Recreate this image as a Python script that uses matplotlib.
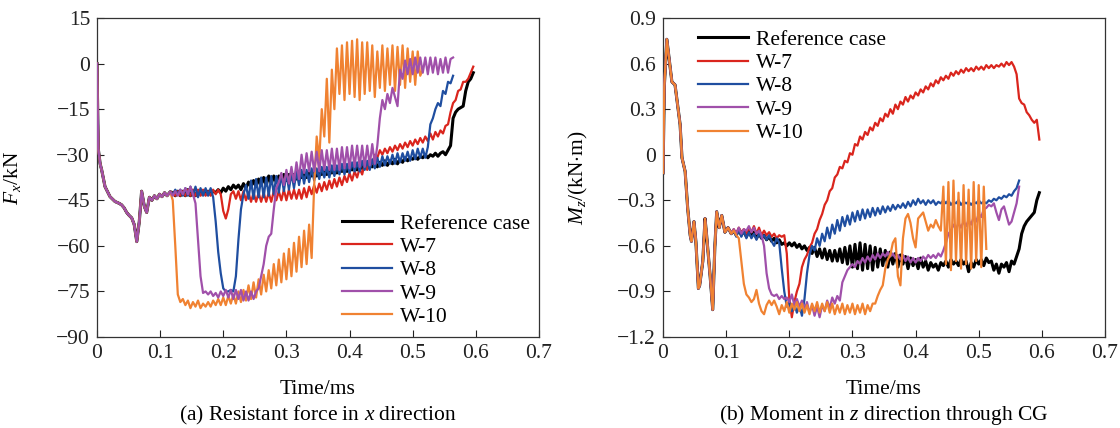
import numpy as np
import matplotlib
matplotlib.use("Agg")
import matplotlib.pyplot as plt

plt.rcParams['font.family'] = ['Liberation Serif', 'DejaVu Serif']
plt.rcParams['mathtext.fontset'] = 'custom'
plt.rcParams['mathtext.rm'] = 'Liberation Serif'
plt.rcParams['mathtext.it'] = 'Liberation Serif:italic'
FS = 15.5

labels = ["Reference case", "W-7", "W-8", "W-9", "W-10"]
colors = ["#000000", "#DA251D", "#1F4EA0", "#A050AA", "#F08232"]

xticks = [0, 0.1, 0.2, 0.3, 0.4, 0.5, 0.6, 0.7]
xticklabels = ["0", "0.1", "0.2", "0.3", "0.4", "0.5", "0.6", "0.7"]
fx_ticks = [15, 0, -15, -30, -45, -60, -75, -90]
fx_ticklabels = ["15", "0", "\u221215", "\u221230", "\u221245", "\u221260", "\u221275", "\u221290"]
mz_ticks = [0.9, 0.6, 0.3, 0, -0.3, -0.6, -0.9, -1.2]
mz_ticklabels = ["0.9", "0.6", "0.3", "0", "\u22120.3", "\u22120.6", "\u22120.9", "\u22121.2"]

DT = 0.004

# ---- (a) Fx, shared start then each case from t=0.12 ms every 0.004 ms
fx_start_t = [0, 0.002, 0.005, 0.0074, 0.0127, 0.0206, 0.0285, 0.035, 0.039, 0.043,
              0.047, 0.051, 0.055, 0.059, 0.063, 0.067, 0.0707, 0.075, 0.0787, 0.083,
              0.087, 0.091, 0.095, 0.099, 0.103, 0.107, 0.111, 0.116]
fx_start_v = [0, -28, -33, -35, -40.5, -43.8, -45.4, -46, -46.5, -47.5,
              -49, -50, -50.8, -53, -58.6, -52, -42, -47, -49, -44,
              -45, -43.5, -44.5, -43, -43.8, -42.5, -43.5, -42.2]
FX_T0 = 0.12

fx_ref = [-42.5, -43.5, -42, -43.5, -42, -43.5, -41.5, -43.5, -42, -43.5,
          -42, -43, -42, -43, -42, -43, -42, -42.5, -41.5, -42.5,
          -41, -42, -40.5, -41.5, -40, -41, -40, -41.5, -39.5, -41,
          -39, -40.5, -38.5, -40.5, -38, -40, -37.5, -40, -37, -39.5,
          -37, -39, -37, -38.5, -36.5, -38.5, -36.5, -38, -36.5, -38,
          -36.5, -37.5, -36, -37.5, -36, -37, -35.5, -37, -35.5, -36.5,
          -35, -36.5, -35, -36, -34.5, -36, -34.5, -35.5, -34, -35.5,
          -34, -35, -33.5, -35, -33.5, -34.5, -33, -34.5, -33, -34,
          -32.5, -34, -32.5, -33.5, -32, -33.5, -32, -33, -31.5, -33,
          -31.5, -32.5, -31, -32, -31, -31.5, -30.5, -31.5, -30.5, -31,
          -30, -31, -30, -30.5, -29.5, -30.5, -29.5, -29, -30, -28.5,
          -27, -18, -16, -15, -14.5, -14, -9, -6, -5, -3]

fx_w7 = [-42.5, -43.5, -42, -43.5, -42, -43.5, -41.5, -43.5, -41.5, -43.5,
         -41.5, -43.5, -41.5, -43.5, -42, -43.5, -41.5, -43, -41.5, -43,
         -48.5, -51, -48, -43, -42, -44.5, -42, -45, -42, -45,
         -42.5, -45.5, -42.5, -45.5, -42.5, -45.5, -42.5, -45.5, -42.5, -45.5,
         -42, -45, -42, -45, -41.5, -45, -41.5, -44.5, -41.5, -44.5,
         -41.5, -44.5, -41, -44, -40.5, -43, -40, -42.5, -39.5, -42,
         -39, -41.5, -38.5, -41, -38, -40.5, -37.5, -40, -37, -39,
         -36, -38.5, -35.5, -37.5, -34.5, -36.5, -33, -35, -31.5, -33,
         -30, -31, -28.5, -30, -28, -29.5, -27.5, -29, -27, -28.5,
         -26.5, -28, -26, -27.5, -25.5, -27, -25, -26.5, -24.5, -26,
         -24, -25.5, -23, -25, -22.5, -24, -22, -23, -20.5, -20,
         -16, -13, -12, -9, -8.5, -6, -6, -5, -3, -1]

fx_w8 = [-43, -41.5, -43, -41.5, -43.5, -41, -43.5, -40.5, -43.5, -40.5,
         -44, -41, -43.5, -41, -43.5, -41, -44, -52, -62, -69,
         -74, -75, -75, -74.5, -75, -70, -58, -48, -43, -40,
         -44.5, -38.5, -44.5, -38, -44, -37.5, -44, -37.5, -43.5, -37,
         -43, -37, -42.5, -36.5, -42, -36, -41.5, -36, -41, -35.5,
         -40, -35, -39.5, -35, -39, -34.5, -38.5, -34.5, -38, -34,
         -37.5, -34, -37.5, -33.5, -37, -33.5, -36.5, -33, -36.5, -33,
         -36, -32.5, -35.5, -32.5, -35.5, -32, -35, -32, -35, -31.5,
         -34.5, -31, -34, -30.5, -33.5, -30.5, -33, -30, -33, -29.5,
         -32.5, -29.5, -32, -29, -32, -28.5, -31.5, -28, -31, -28,
         -31, -27.5, -20, -18, -15, -13, -14, -9, -10, -6,
         -6.5, -4]

fx_w9 = [-43.5, -42, -43.5, -41.5, -43, -41, -43, -40.5, -43, -46,
         -58, -70, -75.5, -75, -76, -75, -76.5, -75.5, -77, -75,
         -76.5, -74.5, -77, -74.5, -77.5, -74.5, -77.5, -74.5, -78, -75,
         -78, -75, -77.5, -75, -74, -70, -66, -60, -57, -56,
         -48, -41, -39, -36, -40, -35, -39.5, -34, -39, -32.5,
         -38, -30, -36, -29.5, -35.5, -29, -35.5, -29, -35.5, -28.5,
         -35, -28.5, -35, -28, -35, -28, -35, -27.5, -34.5, -27.5,
         -34.5, -27, -34, -27, -34, -27, -34, -27, -33.5, -26.5,
         -33, -27, -18, -12, -15, -10, -13, -8, -11, -14,
         -2, -5, 1, -3.5, 1.5, -3.5, 2, -3, 2, -3,
         2, -3.5, 2, -3, 2, -3.5, 1.5, -3, 2, -3,
         1.5, 2]

fx_w10 = [-45, -60, -76, -78.5, -77.5, -79.5, -78, -80.5, -78.5, -80,
          -78, -80.5, -79, -80, -78.5, -80, -78, -79.5, -77.5, -79.5,
          -77, -79.5, -76.5, -79, -76, -79, -75, -78.5, -74.5, -78,
          -73, -77.5, -72, -77, -71, -76, -69.5, -75, -68, -74,
          -66, -73, -64.5, -72, -62.5, -71, -61, -70, -59, -68.5,
          -57, -67, -55, -66, -53, -64, -40, -24, -32, -15,
          -24, -5, -26, -2, -15, 5, -10, 6, -12, 7,
          -10, 7.5, -11, 8, -12, 7, -10, 7, -9, 6,
          -11, 4, -8, 6, -9, 5, -7, 6, -9, 5.5,
          -7, 6, -8, 5, -6, 4, -7, 4, -4, -2]

# ---- (b) Mz, shared start then each case from t=0.112 ms every 0.004 ms
mz_start_t = [0, 0.002, 0.006, 0.010, 0.014, 0.019, 0.023, 0.027, 0.030, 0.035,
              0.039, 0.043, 0.045, 0.049, 0.052, 0.056, 0.058, 0.063, 0.0665, 0.069,
              0.0744, 0.0787, 0.082, 0.085, 0.089, 0.093, 0.098, 0.103, 0.108]
mz_start_v = [-0.12, 0.45, 0.76, 0.62, 0.48, 0.46, 0.33, 0.2, -0.02, -0.11,
              -0.35, -0.53, -0.57, -0.44, -0.57, -0.88, -0.86, -0.70, -0.42, -0.53,
              -0.79, -1.02, -0.61, -0.375, -0.48, -0.40, -0.51, -0.48, -0.52]
MZ_T0 = 0.112

mz_ref = [-0.50, -0.53, -0.49, -0.53, -0.50, -0.54, -0.50, -0.54, -0.51, -0.55,
          -0.52, -0.55, -0.53, -0.56, -0.54, -0.57, -0.55, -0.58, -0.56, -0.59,
          -0.58, -0.60, -0.58, -0.60, -0.58, -0.61, -0.59, -0.62, -0.60, -0.63,
          -0.61, -0.65, -0.61, -0.67, -0.62, -0.68, -0.62, -0.69, -0.63, -0.70,
          -0.63, -0.70, -0.62, -0.71, -0.61, -0.72, -0.60, -0.74, -0.59, -0.75,
          -0.58, -0.76, -0.59, -0.75, -0.60, -0.76, -0.61, -0.74, -0.62, -0.73,
          -0.63, -0.74, -0.64, -0.72, -0.65, -0.74, -0.66, -0.72, -0.67, -0.75,
          -0.68, -0.73, -0.69, -0.75, -0.68, -0.74, -0.70, -0.76, -0.71, -0.74,
          -0.72, -0.76, -0.71, -0.73, -0.70, -0.74, -0.69, -0.72, -0.70, -0.73,
          -0.69, -0.72, -0.70, -0.77, -0.71, -0.74, -0.69, -0.72, -0.69, -0.73,
          -0.68, -0.71, -0.70, -0.76, -0.72, -0.78, -0.72, -0.74, -0.71, -0.77,
          -0.70, -0.72, -0.67, -0.62, -0.52, -0.47, -0.44, -0.42, -0.40, -0.38,
          -0.30, -0.25]

mz_w7 = [-0.49, -0.52, -0.48, -0.51, -0.49, -0.52, -0.48, -0.51, -0.47, -0.52,
         -0.48, -0.53, -0.50, -0.53, -0.51, -0.54, -0.52, -0.55, -0.53, -0.54,
         -0.53, -0.65, -0.95, -1.07, -0.97, -0.90, -0.85, -0.74, -0.69, -0.66,
         -0.61, -0.58, -0.52, -0.49, -0.43, -0.39, -0.33, -0.30, -0.24, -0.22,
         -0.15, -0.13, -0.08, -0.09, -0.04, -0.05, 0.01, 0.00, 0.07, 0.06,
         0.12, 0.10, 0.15, 0.13, 0.18, 0.16, 0.21, 0.19, 0.24, 0.22,
         0.27, 0.25, 0.30, 0.27, 0.33, 0.30, 0.35, 0.33, 0.38, 0.35,
         0.39, 0.37, 0.41, 0.39, 0.43, 0.41, 0.45, 0.43, 0.47, 0.45,
         0.49, 0.47, 0.51, 0.49, 0.52, 0.50, 0.54, 0.52, 0.55, 0.53,
         0.56, 0.54, 0.57, 0.55, 0.57, 0.55, 0.58, 0.56, 0.58, 0.56,
         0.59, 0.57, 0.59, 0.57, 0.59, 0.58, 0.60, 0.58, 0.61, 0.59,
         0.61, 0.58, 0.53, 0.37, 0.34, 0.33, 0.28, 0.26, 0.23, 0.21,
         0.23, 0.10]

mz_w8 = [-0.50, -0.54, -0.49, -0.54, -0.50, -0.55, -0.51, -0.55, -0.52, -0.56,
         -0.52, -0.55, -0.53, -0.56, -0.53, -0.57, -0.60, -0.55, -0.58, -0.75,
         -0.90, -1.00, -0.97, -1.03, -0.98, -1.04, -0.99, -1.06, -0.95, -0.78,
         -0.66, -0.60, -0.63, -0.55, -0.60, -0.52, -0.57, -0.48, -0.55, -0.46,
         -0.52, -0.43, -0.50, -0.41, -0.47, -0.40, -0.46, -0.38, -0.44, -0.37,
         -0.43, -0.36, -0.42, -0.36, -0.41, -0.35, -0.40, -0.35, -0.39, -0.34,
         -0.38, -0.34, -0.37, -0.33, -0.36, -0.33, -0.35, -0.32, -0.35, -0.31,
         -0.34, -0.30, -0.33, -0.29, -0.32, -0.30, -0.33, -0.30, -0.32, -0.30,
         -0.33, -0.31, -0.32, -0.30, -0.32, -0.30, -0.33, -0.31, -0.32, -0.30,
         -0.33, -0.31, -0.32, -0.31, -0.33, -0.31, -0.32, -0.30, -0.32, -0.31,
         -0.32, -0.30, -0.31, -0.29, -0.30, -0.28, -0.29, -0.27, -0.28, -0.26,
         -0.27, -0.24, -0.22, -0.17]

mz_w9 = [-0.49, -0.52, -0.48, -0.52, -0.49, -0.50, -0.47, -0.51, -0.48, -0.52,
         -0.50, -0.53, -0.60, -0.78, -0.88, -0.92, -0.93, -0.92, -0.95, -0.93,
         -0.95, -0.94, -0.97, -0.92, -0.99, -0.95, -1.00, -0.96, -1.02, -0.97,
         -1.04, -0.99, -1.06, -1.00, -1.07, -0.99, -1.03, -0.96, -1.01, -0.94,
         -0.98, -0.93, -0.96, -0.84, -0.80, -0.76, -0.74, -0.72, -0.74, -0.70,
         -0.72, -0.68, -0.71, -0.67, -0.70, -0.66, -0.69, -0.65, -0.68, -0.65,
         -0.67, -0.64, -0.67, -0.65, -0.68, -0.66, -0.69, -0.66, -0.70, -0.67,
         -0.71, -0.68, -0.71, -0.68, -0.70, -0.67, -0.69, -0.66, -0.68, -0.66,
         -0.68, -0.65, -0.67, -0.63, -0.58, -0.52, -0.50, -0.46, -0.49, -0.45,
         -0.48, -0.44, -0.47, -0.43, -0.46, -0.41, -0.44, -0.39, -0.41, -0.36,
         -0.35, -0.33, -0.34, -0.32, -0.38, -0.43, -0.36, -0.34, -0.40, -0.46,
         -0.44, -0.38, -0.32, -0.21]

mz_w10 = [-0.50, -0.53, -0.55, -0.70, -0.85, -0.92, -0.94, -0.97, -0.95, -0.89,
          -0.98, -1.03, -1.05, -0.99, -0.96, -0.99, -0.96, -1.00, -1.05, -0.99,
          -1.03, -0.97, -1.04, -0.98, -1.02, -0.97, -1.03, -0.98, -1.04, -0.99,
          -1.05, -0.98, -1.03, -0.97, -1.04, -0.98, -1.03, -0.97, -1.04, -0.98,
          -1.05, -0.99, -1.04, -0.98, -1.05, -0.99, -1.04, -0.98, -1.05, -0.99,
          -1.04, -0.98, -1.05, -0.99, -1.03, -0.98, -0.98, -0.93, -0.89, -0.86,
          -0.75, -0.69, -0.66, -0.58, -0.55, -0.80, -0.86, -0.55, -0.42, -0.39,
          -0.45, -0.55, -0.61, -0.42, -0.40, -0.38, -0.44, -0.50, -0.46, -0.48,
          -0.43, -0.47, -0.50, -0.21, -0.72, -0.18, -0.76, -0.17, -0.70, -0.25,
          -0.75, -0.20, -0.72, -0.23, -0.75, -0.18, -0.70, -0.20, -0.74, -0.21,
          -0.62]


def build(start_t, start_v, vals, t0):
    t = np.concatenate([start_t, t0 + DT * np.arange(len(vals))])
    v = np.concatenate([start_v, vals])
    return t, v


fig = plt.figure(figsize=(11.2, 4.28), dpi=100)
ax1 = fig.add_axes([0.0866, 0.2126, 0.3946, 0.7453])
ax2 = fig.add_axes([0.592, 0.2126, 0.3946, 0.7453])

fx_data = [fx_ref, fx_w7, fx_w8, fx_w9, fx_w10]
mz_data = [mz_ref, mz_w7, mz_w8, mz_w9, mz_w10]
widths = [2.2, 1.6, 1.6, 1.6, 1.6]
z_fx = [2, 3, 4, 6, 5]
z_mz = [2, 3, 4, 5, 6]

for vals, lab, c, lw, z in zip(fx_data, labels, colors, widths, z_fx):
    t, v = build(fx_start_t, fx_start_v, vals, FX_T0)
    ax1.plot(t, v, color=c, lw=lw, label=lab, zorder=z)

for vals, lab, c, lw, z in zip(mz_data, labels, colors, widths, z_mz):
    t, v = build(mz_start_t, mz_start_v, vals, MZ_T0)
    ax2.plot(t, v, color=c, lw=lw, label=lab, zorder=z)

for ax in (ax1, ax2):
    ax.set_xlim(0, 0.7)
    ax.set_xticks(xticks)
    ax.set_xticklabels(xticklabels)
    ax.tick_params(direction='in', length=5, width=0.8, top=False, right=False,
                   labelsize=FS, colors='#222222', pad=5)
    for s in ax.spines.values():
        s.set_linewidth(0.9)
        s.set_color('#333333')
    ax.set_xlabel("Time/ms", fontsize=FS)
    ax.xaxis.set_label_coords(0.5, -0.135)

ax1.set_ylim(-90, 15)
ax1.set_yticks(fx_ticks)
ax1.set_yticklabels(fx_ticklabels)
ax1.set_ylabel(r"$F_x$/kN", fontsize=FS)
ax1.yaxis.set_label_coords(-0.168, 0.5)

ax2.set_ylim(-1.2, 0.9)
ax2.set_yticks(mz_ticks)
ax2.set_yticklabels(mz_ticklabels)
ax2.set_ylabel(r"$M_z$/(kN$\cdot$m)", fontsize=FS)
ax2.yaxis.set_label_coords(-0.165, 0.5)

ax1.legend(loc='lower left', bbox_to_anchor=(0.535, 0.005), frameon=False,
           handlelength=2.3, handletextpad=0.4, labelspacing=0.15, fontsize=FS,
           borderaxespad=0)
ax2.legend(loc='upper left', bbox_to_anchor=(0.06, 0.99), frameon=False,
           handlelength=2.3, handletextpad=0.4, labelspacing=0.15, fontsize=FS,
           borderaxespad=0)

fig.text(0.284, 0.03, r"(a) Resistant force in $x$ direction", ha='center', va='center', fontsize=FS)
fig.text(0.789, 0.03, r"(b) Moment in $z$ direction through CG", ha='center', va='center', fontsize=FS)

fig.savefig("out.png", dpi=100)
